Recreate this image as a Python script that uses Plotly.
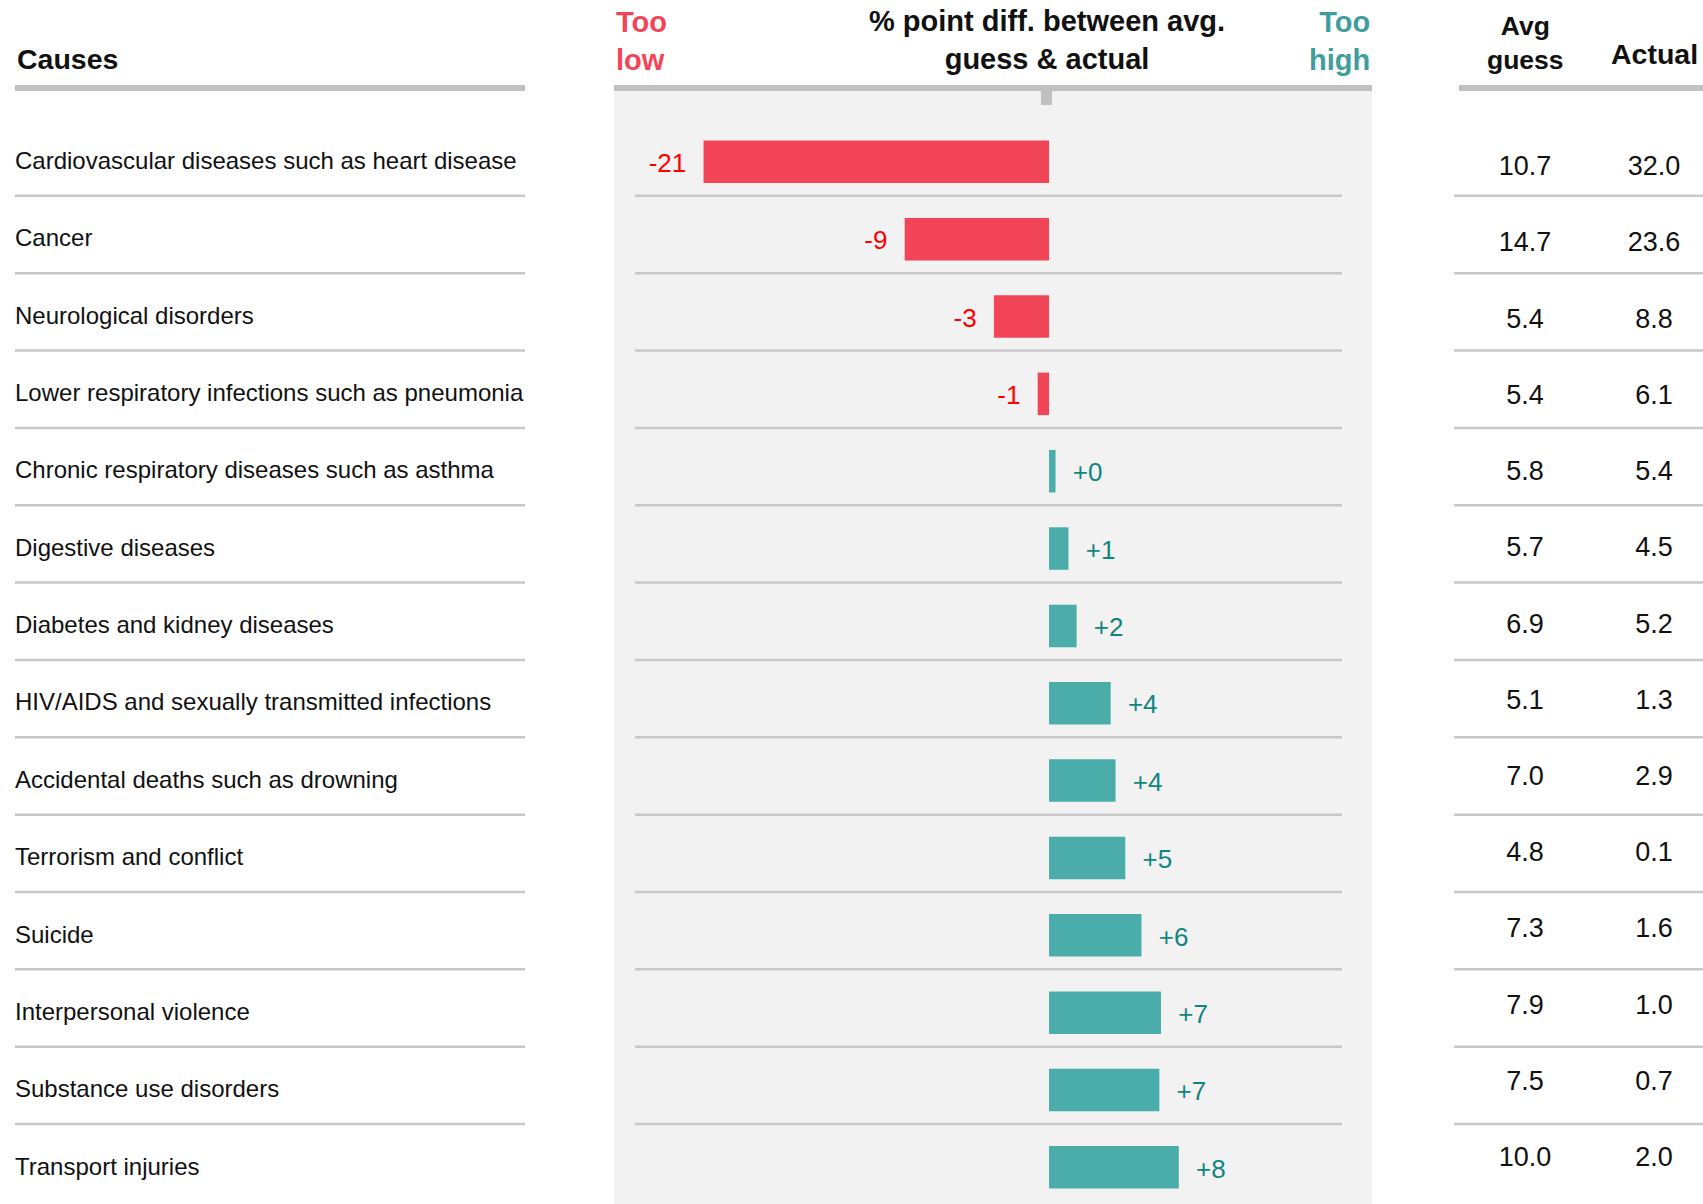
import plotly.graph_objects as go

# ---------------- data ----------------
causes = [
    "Cardiovascular diseases such as heart disease",
    "Cancer",
    "Neurological disorders",
    "Lower respiratory infections such as pneumonia",
    "Chronic respiratory diseases such as asthma",
    "Digestive diseases",
    "Diabetes and kidney diseases",
    "HIV/AIDS and sexually transmitted infections",
    "Accidental deaths such as drowning",
    "Terrorism and conflict",
    "Suicide",
    "Interpersonal violence",
    "Substance use disorders",
    "Transport injuries",
]
avg_guess = [10.7, 14.7, 5.4, 5.4, 5.8, 5.7, 6.9, 5.1, 7.0, 4.8, 7.3, 7.9, 7.5, 10.0]
actual = [32.0, 23.6, 8.8, 6.1, 5.4, 4.5, 5.2, 1.3, 2.9, 0.1, 1.6, 1.0, 0.7, 2.0]
diff = [-21.3, -8.9, -3.4, -0.7, 0.4, 1.2, 1.7, 3.8, 4.1, 4.7, 5.7, 6.9, 6.8, 8.0]
diff_labels = ["-21", "-9", "-3", "-1", "+0", "+1", "+2", "+4", "+4", "+5", "+6", "+7", "+7", "+8"]

# ---------------- style ----------------
FW, FH = 1703, 1204
FONT = "Liberation Sans, Arial, Helvetica, sans-serif"
RED_BAR = "#f24558"
TEAL_BAR = "#4aadaa"
RED_TXT = "#ff0000"
TEAL_TXT = "#11857f"
HEAD_LINE = "#c0c0c0"
SEP = "#c8c8c8"
PANEL = "#f2f2f2"
TXT = "#111111"

rows = list(range(len(causes)))


def px(x):
    return x / FW


def py(y):
    return 1 - y / FH


def yrange(center0, step):
    top = (0 - center0) / step
    bottom = (FH - center0) / step
    return [bottom, top]


fig = go.Figure()

# cause labels
fig.add_trace(go.Scatter(
    x=[0] * len(causes), y=rows, mode="text", text=causes,
    textposition="middle right",
    textfont=dict(family=FONT, size=24, color=TXT),
    xaxis="x", yaxis="y4", hoverinfo="skip", cliponaxis=False,
))

# bars
fig.add_trace(go.Bar(
    x=diff, y=rows, orientation="h", width=0.55,
    marker=dict(color=[RED_BAR if d < 0 else TEAL_BAR for d in diff], line=dict(width=0)),
    xaxis="x2", yaxis="y", hoverinfo="skip",
))

# bar value labels
fig.add_trace(go.Scatter(
    x=diff, y=rows, mode="markers+text", text=diff_labels,
    marker=dict(size=26, opacity=0),
    textposition=["middle left" if d < 0 else "middle right" for d in diff],
    textfont=dict(family=FONT, size=26, color=[RED_TXT if d < 0 else TEAL_TXT for d in diff]),
    xaxis="x4", yaxis="y3", hoverinfo="skip", cliponaxis=False,
))

# table values
fig.add_trace(go.Scatter(
    x=[0] * len(avg_guess), y=rows, mode="text",
    text=[f"{v:.1f}" for v in avg_guess], textposition="middle center",
    textfont=dict(family=FONT, size=27, color=TXT),
    xaxis="x3", yaxis="y2", hoverinfo="skip", cliponaxis=False,
))
fig.add_trace(go.Scatter(
    x=[1] * len(actual), y=rows, mode="text",
    text=[f"{v:.1f}" for v in actual], textposition="middle center",
    textfont=dict(family=FONT, size=27, color=TXT),
    xaxis="x3", yaxis="y2", hoverinfo="skip", cliponaxis=False,
))

shapes = []
# grey panel
shapes.append(dict(type="rect", xref="paper", yref="paper",
                   x0=px(614), x1=px(1372), y0=py(1204), y1=py(91),
                   fillcolor=PANEL, line=dict(width=0), layer="below"))
# header lines
for a, b in [(15, 525), (614, 1372), (1459, 1703)]:
    shapes.append(dict(type="rect", xref="paper", yref="paper",
                       x0=px(a), x1=px(b), y0=py(91), y1=py(85),
                       fillcolor=HEAD_LINE, line=dict(width=0), layer="above"))
# zero tick
shapes.append(dict(type="rect", xref="paper", yref="paper",
                   x0=px(1041), x1=px(1052), y0=py(105), y1=py(85),
                   fillcolor=HEAD_LINE, line=dict(width=0), layer="above"))
# row separators
for j in range(len(causes) - 1):
    yv = j + 0.44
    for a, b in [(15, 525), (635, 1342), (1454, 1703)]:
        shapes.append(dict(type="line", xref="paper", yref="y",
                           x0=px(a), x1=px(b), y0=yv, y1=yv,
                           line=dict(color=SEP, width=2.5), layer="above"))

annotations = [
    dict(text="<b>Causes</b>", x=px(15), y=py(59), xanchor="left", yanchor="middle",
         font=dict(family=FONT, size=28.5, color=TXT)),
    dict(text="<b>Too<br>low</b>", x=px(614), y=py(41), xanchor="left", yanchor="middle",
         align="left", font=dict(family=FONT, size=29, color=RED_BAR)),
    dict(text="<b>% point diff. between avg.<br>guess & actual</b>", x=px(1047), y=py(40),
         xanchor="center", yanchor="middle", align="center",
         font=dict(family=FONT, size=29, color=TXT)),
    dict(text="<b>Too<br>high</b>", x=px(1372), y=py(41), xanchor="right", yanchor="middle",
         align="right", font=dict(family=FONT, size=29, color="#3f9e9b")),
    dict(text="<b>Avg<br>guess</b>", x=px(1525), y=py(43), xanchor="center", yanchor="middle",
         align="center", font=dict(family=FONT, size=26.5, color=TXT)),
    dict(text="<b>Actual</b>", x=px(1654), y=py(54), xanchor="center", yanchor="middle",
         font=dict(family=FONT, size=28.5, color=TXT)),
]
for a in annotations:
    a.update(xref="paper", yref="paper", showarrow=False)

hidden = dict(visible=False, showgrid=False, zeroline=False, fixedrange=True)
XR_BARS = [-26.82, 19.91]

fig.update_layout(
    width=FW, height=FH,
    margin=dict(l=0, r=0, t=0, b=0),
    paper_bgcolor="white", plot_bgcolor="rgba(0,0,0,0)",
    showlegend=False, hovermode=False, barmode="overlay",
    xaxis=dict(domain=[px(15), px(525)], range=[0, 1], anchor="y4", **hidden),
    xaxis2=dict(domain=[px(614), px(1372)], range=XR_BARS, anchor="y", **hidden),
    xaxis3=dict(domain=[px(1459), 1], range=[-0.512, 1.380], anchor="y2", **hidden),
    xaxis4=dict(domain=[px(614), px(1372)], range=XR_BARS, anchor="y3", **hidden),
    yaxis=dict(domain=[0, 1], range=yrange(161.8, 77.35), anchor="x2", **hidden),
    yaxis2=dict(domain=[0, 1], range=yrange(168.4, 76.23), anchor="x3", **hidden),
    yaxis3=dict(domain=[0, 1], range=yrange(165.5, 77.35), anchor="x4", **hidden),
    yaxis4=dict(domain=[0, 1], range=yrange(163.0, 77.35), anchor="x", **hidden),
    shapes=shapes, annotations=annotations,
)

fig.write_html("out.html", config={"displayModeBar": False},
               post_script="document.body.style.margin='0';")
